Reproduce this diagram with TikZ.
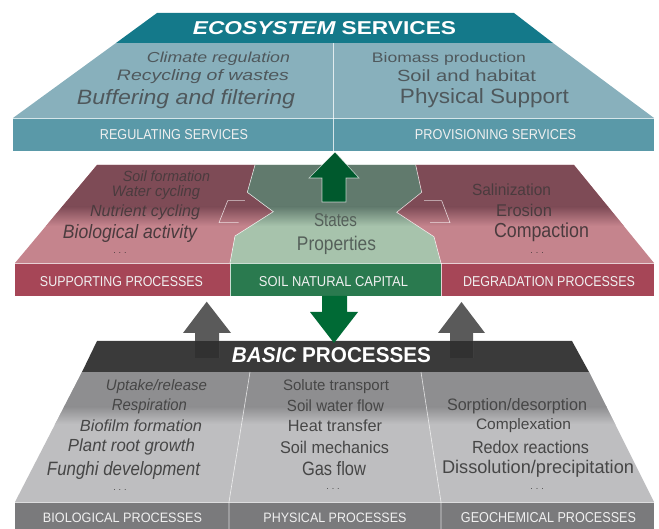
\documentclass[tikz,border=0pt]{standalone}
\usepackage{fontspec}
\setmainfont{Liberation Sans}
\usepackage{graphicx}
\definecolor{tealdark}{HTML}{14798A}
\definecolor{tealbody}{HTML}{88B0BC}
\definecolor{tealfront}{HTML}{5A99A8}
\definecolor{txttop}{HTML}{4F585C}
\definecolor{pinkdark}{HTML}{7E4B56}
\definecolor{pinklight}{HTML}{C5848D}
\definecolor{pinkfront}{HTML}{A64657}
\definecolor{greendark}{HTML}{617A6D}
\definecolor{greenlight}{HTML}{A7C3AC}
\definecolor{greenfront}{HTML}{2A7A4F}
\definecolor{arrowgreen}{HTML}{00592D}
\definecolor{arrowgreenb}{HTML}{006A35}
\definecolor{graydark}{HTML}{3A3A3A}
\definecolor{graybodyd}{HTML}{8E8E90}
\definecolor{graybodyl}{HTML}{BEBEC0}
\definecolor{grayfront}{HTML}{7A7A7C}
\definecolor{grayarrow}{HTML}{5A5A5A}
\definecolor{txtmid}{HTML}{4A3B3E}
\definecolor{txtgreen}{HTML}{55605A}
\definecolor{txtbot}{HTML}{464646}
\definecolor{lbl}{HTML}{F0F0F0}
\newcommand\fw[3]{\resizebox{#1pt}{#2pt}{#3}}
\tikzset{
  tt/.style={inner sep=0pt, text=txttop},
  tm/.style={inner sep=0pt, text=txtmid},
  tg/.style={inner sep=0pt, text=txtgreen},
  tb/.style={inner sep=0pt, text=txtbot},
  tl/.style={inner sep=0pt, text=lbl},
  dots/.style={inner sep=0pt, font=\fontsize{9}{9}\selectfont},
  edge/.style={draw=white, draw opacity=.75, line width=.6pt},
}
\begin{document}
\begin{tikzpicture}[x=1pt,y=-1pt]
\useasboundingbox (0,0) rectangle (659,529);
% ================= TOP LAYER =================
\fill[tealbody] (116,43) -- (553,43) -- (654,118) -- (13,118) -- cycle;
\fill[tealdark] (157,13) -- (514,13) -- (553,43) -- (116,43) -- cycle;
\fill[tealfront] (13,118) rectangle (654,151);
\draw[edge] (13,118) -- (654,118);
\draw[edge] (333,43) -- (333,151);
% ================= MIDDLE LAYER =================
\begin{scope}
\clip (97,165) -- (255,165) -- (247.3,192.3) -- (273.3,211.7) -- (235,236) -- (230,263) -- (15,263) -- cycle;
\fill[pinklight] (0,160) rectangle (659,265);
\fill[pinkdark] (0,160) rectangle (659,207);
\shade[top color=pinkdark,bottom color=pinklight] (0,206.5) rectangle (659,226);
\end{scope}
\begin{scope}
\clip (255,165) -- (415.7,165) -- (421.7,192.3) -- (396.7,212.3) -- (434,236.7) -- (441,263) -- (230,263) -- (235,236) -- (273.3,211.7) -- (247.3,192.3) -- cycle;
\fill[greenlight] (0,160) rectangle (659,265);
\fill[greendark] (0,160) rectangle (659,207);
\shade[top color=greendark,bottom color=greenlight] (0,206.5) rectangle (659,226);
\end{scope}
\begin{scope}
\clip (415.7,165) -- (574,165) -- (654,263) -- (441,263) -- (434,236.7) -- (396.7,212.3) -- (421.7,192.3) -- cycle;
\fill[pinklight] (0,160) rectangle (659,265);
\fill[pinkdark] (0,160) rectangle (659,207);
\shade[top color=pinkdark,bottom color=pinklight] (0,206.5) rectangle (659,226);
\end{scope}
\draw[edge] (255,165) -- (247.3,192.3) -- (273.3,211.7) -- (235,236) -- (230,263);
\draw[edge] (415.7,165) -- (421.7,192.3) -- (396.7,212.3) -- (434,236.7) -- (441,263);
\draw[edge] (244.9,200.7) -- (227.7,200.7) -- (219,222.7) -- (238.7,222.7);
\draw[edge] (424,200.7) -- (441.7,200.7) -- (450,222.7) -- (430.1,222.7);
\fill[pinkfront] (15,263) rectangle (230,296);
\fill[greenfront] (230,263) rectangle (441,296);
\fill[pinkfront] (441,263) rectangle (654,296);
\draw[edge] (15,263) -- (654,263);
\draw[edge] (230,263) -- (230,296);
\draw[edge] (441,263) -- (441,296);
% green up arrow
\filldraw[fill=arrowgreen, draw=white, draw opacity=.7, line width=.6pt]
  (335,152) -- (359,178) -- (346,178) -- (346,202) -- (322,202) -- (322,178) -- (309,178) -- cycle;
% ================= BOTTOM LAYER =================
\begin{scope}
\clip (82,372) -- (589,372) -- (654,502) -- (15,502) -- cycle;
\fill[graybodyl] (0,370) rectangle (659,505);
\fill[graybodyd] (0,370) rectangle (659,407);
\shade[top color=graybodyd,bottom color=graybodyl] (0,406.5) rectangle (659,424);
\end{scope}
\fill[graydark] (97,341) -- (572,341) -- (589,372) -- (82,372) -- cycle;
\fill[grayfront] (15,502) rectangle (654,529);
\draw[edge] (15,502) -- (654,502);
\draw[edge] (250,372) -- (229,502) -- (229,529);
\draw[edge] (421,372) -- (441,502) -- (441,529);
% gray up arrows
\fill[grayarrow] (206.7,301.7) -- (231,333) -- (219,333) -- (219,358) -- (195,358) -- (195,333) -- (183,333) -- cycle;
\fill[grayarrow] (461.5,302) -- (485,333) -- (473,333) -- (473,358) -- (450,358) -- (450,333) -- (438,333) -- cycle;
\fill[black, opacity=.45] (195,341) rectangle (219,358);
\fill[black, opacity=.45] (450,341) rectangle (473,358);
% green down arrow
\fill[arrowgreenb] (322,296) -- (347,296) -- (347,312) -- (358,312) -- (334,343) -- (310,312) -- (322,312) -- cycle;
% ================= TEXTS =================
\node[inner sep=0pt, text=white] (eco) at (324.5,28.5) {\fw{263}{13}{\bfseries{\itshape ECOSYSTEM} SERVICES}};
\node[tt] (reg1) at (218.5,59) {\fw{143}{10.5}{\itshape Climate regulation}};
\node[tt] (reg2) at (203,76.5) {\fw{172}{11}{\itshape Recycling of wastes}};
\node[tt] (reg3) at (186,99) {\fw{218}{15}{\itshape Buffering and filtering}};
\node[tt] (pro1) at (449,59) {\fw{154}{10}{Biomass production}};
\node[tt] (pro2) at (466.5,75.5) {\fw{139}{11.7}{Soil and habitat}};
\node[tt] (pro3) at (484.5,98) {\fw{169}{15}{Physical Support}};
\node[tl] (regs) at (174,135) {\fw{148}{10}{REGULATING SERVICES}};
\node[tl] (pros) at (495.5,135) {\fw{161}{10}{PROVISIONING SERVICES}};
% middle
\node[tm] (sp1) at (166.5,176.5) {\fw{87}{10.7}{\itshape Soil formation}};
\node[tm] (sp2) at (156,193) {\fw{88}{11}{\itshape Water cycling}};
\node[tm] (sp3) at (145,212) {\fw{110}{11.7}{\itshape Nutrient cycling}};
\node[tm] (sp4) at (130,233.5) {\fw{134}{14}{\itshape Biological activity}};
\node[dots, text=txtmid] (sp5) at (120,253) {.\,\,.\,\,.};
\node[tg] (nc1) at (335.5,220) {\fw{43}{13}{States}};
\node[tg] (nc2) at (336.5,245) {\fw{79}{14.3}{Properties}};
\node[tm] (dg1) at (511.5,190) {\fw{79}{11.7}{Salinization}};
\node[tm] (dg2) at (524,210) {\fw{56}{12.3}{Erosion}};
\node[tm] (dg3) at (541.5,232) {\fw{95}{14.7}{Compaction}};
\node[dots, text=txtmid] (dg4) at (537,253) {.\,\,.\,\,.};
\node[tl] (sps) at (121.5,282) {\fw{163}{10}{SUPPORTING PROCESSES}};
\node[tl] (ncs) at (333.5,282) {\fw{149}{10}{SOIL NATURAL CAPITAL}};
\node[tl] (dgs) at (549,282) {\fw{172}{10}{DEGRADATION PROCESSES}};
% bottom
\node[inner sep=0pt, text=white] (basic) at (331.5,355.5) {\fw{199}{15}{\bfseries{\itshape BASIC} PROCESSES}};
\node[tb] (b1) at (156.5,387) {\fw{101}{11}{\itshape Uptake/release}};
\node[tb] (b2) at (149.5,406) {\fw{75}{11.7}{\itshape Respiration}};
\node[tb] (b3) at (141,426) {\fw{122}{11.7}{\itshape Biofilm formation}};
\node[tb] (b4) at (131.5,447) {\fw{127}{12.7}{\itshape Plant root growth}};
\node[tb] (b5) at (123.5,471) {\fw{153}{14}{\itshape Funghi development}};
\node[dots, text=txtbot] (b6) at (120,490) {.\,\,.\,\,.};
\node[tb] (p1) at (336,387) {\fw{106}{11}{Solute transport}};
\node[tb] (p2) at (335.5,406) {\fw{97}{11.7}{Soil water flow}};
\node[tb] (p3) at (335,426) {\fw{94}{11.7}{Heat transfer}};
\node[tb] (p4) at (334.5,447) {\fw{109}{12.3}{Soil mechanics}};
\node[tb] (p5) at (334,469) {\fw{64}{14}{Gas flow}};
\node[dots, text=txtbot] (p6) at (333,489) {.\,\,.\,\,.};
\node[tb] (g1) at (517,406) {\fw{140}{12}{Sorption/desorption}};
\node[tb] (g2) at (523.5,426) {\fw{95}{11}{Complexation}};
\node[tb] (g3) at (530.5,447) {\fw{117}{12.7}{Redox reactions}};
\node[tb] (g4) at (538,469) {\fw{192}{13.3}{Dissolution/precipitation}};
\node[dots, text=txtbot] (g5) at (537,489) {.\,\,.\,\,.};
\node[tl] (bios) at (122.5,518) {\fw{159}{9.5}{BIOLOGICAL PROCESSES}};
\node[tl] (phys) at (335,518) {\fw{143}{9.5}{PHYSICAL PROCESSES}};
\node[tl] (geos) at (548.5,518) {\fw{175}{10}{GEOCHEMICAL PROCESSES}};
\end{tikzpicture}
\end{document}
